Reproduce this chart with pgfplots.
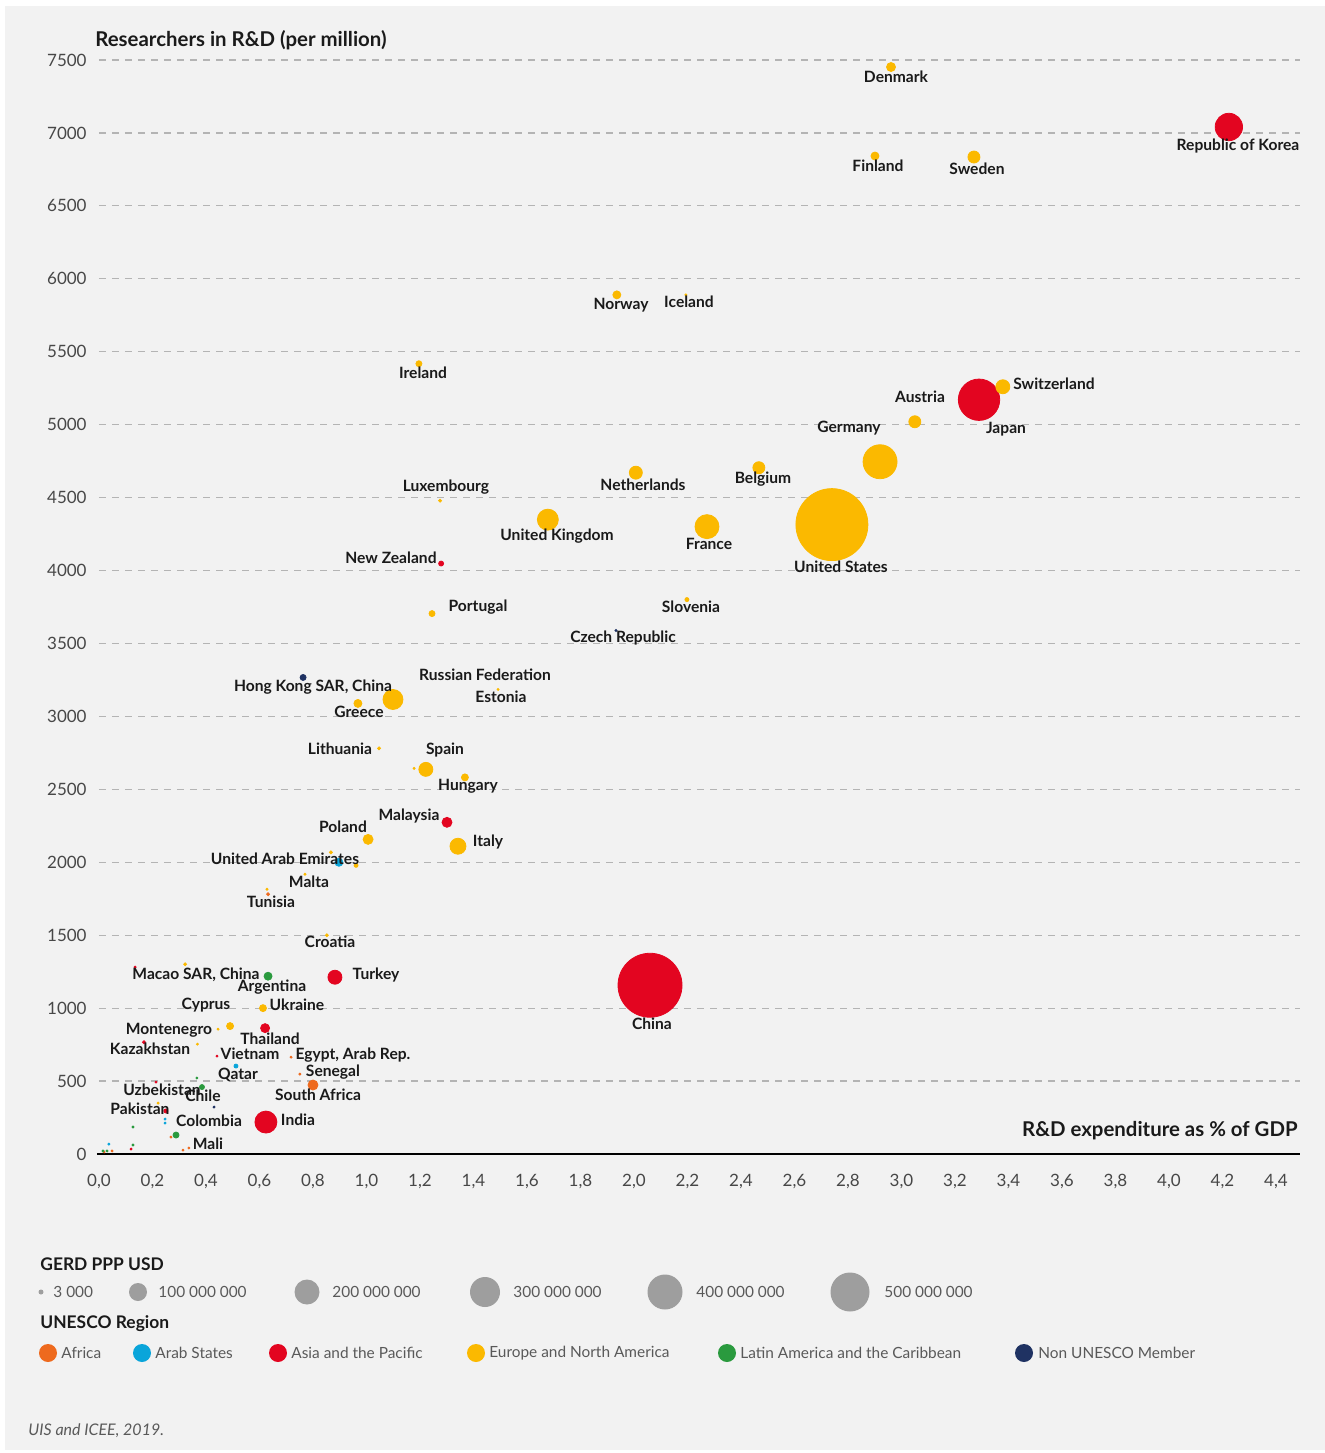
\documentclass[border=0pt]{standalone}
\usepackage{pgfplots}
\pgfplotsset{compat=1.18}
\usepackage{fontspec}
\setmainfont{Lato}
\definecolor{bgC}{HTML}{F2F2F2}
\definecolor{gridC}{HTML}{B4B4B4}
\definecolor{yellowC}{HTML}{FBB900}
\definecolor{redC}{HTML}{E30520}
\definecolor{orangeC}{HTML}{EE6A1E}
\definecolor{cyanC}{HTML}{0AA5DA}
\definecolor{greenC}{HTML}{2A9A3E}
\definecolor{navyC}{HTML}{1F3262}
\definecolor{txtC}{HTML}{1A1A1A}
\definecolor{legC}{HTML}{9E9E9E}

\pgfplotstableread{
x y r
2.961 7452 4.5
2.901 6842 4
3.271 6835 6
1.936 5890 4
2.194 5890 1
1.196 5418 3
3.050 5020 6
2.920 4746 17
2.467 4705 6
2.007 4671 6.5
1.275 4479 1.5
1.678 4349 10.5
2.273 4301 12
2.740 4315 36
1.245 3705 3
2.198 3801 2
1.099 3116 10
1.492 3185 1
0.968 3089 4
1.047 2781 1.5
1.222 2637 7
1.178 2644 1
1.368 2582 3.5
1.006 2157 5
1.342 2110 8
0.867 2068 1.5
0.961 1979 2
0.770 1918 1
0.628 1815 1
0.852 1500 1.5
0.322 1301 1.5
0.613 1000 3.5
0.490 877 3.5
0.445 856 1
0.368 753 1
0.221 349 1
3.379 5260 7
}\europe
\pgfplotstableread{
x y r
4.224 7041 13.7
3.290 5171 20.7
1.279 4048 2.5
1.301 2274 5
0.135 1281 1
0.882 1212 7
2.060 1157 32
0.621 863 4.5
0.168 767 1.5
0.441 671 1
0.213 493 1
0.250 295 2
0.624 219 11
0.120 34 1
}\asia
\pgfplotstableread{
x y r
0.897 2000 4
0.512 603 2
0.247 240 1
0.247 212 1
0.037 68 1
}\arab
\pgfplotstableread{
x y r
0.632 1781 1.5
0.718 664 1
0.751 548 1
0.800 473 5
0.269 116 1
0.314 27 1
0.336 41 1
0.049 21 1
0.019 14 1
}\africa
\pgfplotstableread{
x y r
0.632 1219 4
0.385 459 2.5
0.366 521 1
0.127 185 1
0.288 130 3
0.127 62 1
0.015 21 1
0.030 21 1
}\latam
\pgfplotstableread{
x y r
0.763 3267 3
0.430 322 1
1.933 3589 1
}\nonun

\pgfplotsset{
  bubble/.style={only marks, mark=*, color=#1, scatter,
    visualization depends on={\thisrow{r} \as \rr},
    scatter/use mapped color={draw=none, fill=#1},
    mark options={draw=none, fill=#1},
    scatter/@pre marker code/.append style={/tikz/mark size=0.5*\rr, /tikz/draw=none, /tikz/fill=#1}},
}

\begin{document}
\begin{tikzpicture}[x=0.5pt,y=0.5pt,
  lbl/.style={font=\fontsize{7.8}{9}\selectfont\bfseries, text=txtC, inner sep=0pt, anchor=center},
  legt/.style={font=\fontsize{7.7}{9}\selectfont, text=black!65, inner sep=0pt, anchor=west}]
\useasboundingbox (0,0) rectangle (1325,-1453);
\fill[white] (0,0) rectangle (1325,-1453);
\fill[bgC] (5,-6) rectangle (1325,-1450);

\begin{axis}[
  at={(49.5pt,-577pt)}, anchor=south west,
  scale only axis, width=600.5pt, height=547pt,
  xmin=0, xmax=4.49, ymin=0, ymax=7500,
  clip=false,
  axis line style={draw=none},
  major tick length=0pt,
  xtick={0,0.2,0.4,0.6,0.8,1.0,1.2,1.4,1.6,1.8,2.0,2.2,2.4,2.6,2.8,3.0,3.2,3.4,3.6,3.8,4.0,4.2,4.4},
  ytick={0,500,1000,1500,2000,2500,3000,3500,4000,4500,5000,5500,6000,6500,7000,7500},
  ymajorgrids,
  grid style={color=gridC, line width=0.6pt, dash pattern=on 3.5pt off 3pt},
  /pgf/number format/assume math mode=true,
  xticklabel style={/pgf/number format/fixed, /pgf/number format/fixed zerofill, /pgf/number format/precision=1, /pgf/number format/use comma, anchor=north, inner sep=0pt, yshift=-10pt},
  yticklabel style={/pgf/number format/fixed, /pgf/number format/set thousands separator={}, anchor=east, inner sep=0pt, xshift=-6pt},
  tick label style={font=\fontsize{8.5}{10}\selectfont, text=black!72},
]
\draw[black, line width=1pt] (axis cs:-0.008,0) -- (axis cs:4.49,0);
\addplot[bubble=redC] table {\asia};
\addplot[bubble=yellowC] table {\europe};
\addplot[bubble=cyanC] table {\arab};
\addplot[bubble=orangeC] table {\africa};
\addplot[bubble=greenC] table {\latam};
\addplot[bubble=navyC] table {\nonun};
\end{axis}

% axis titles
\node[font=\fontsize{10.2}{12}\selectfont\bfseries, text=txtC, anchor=west, inner sep=0pt] at (95,-40) {Researchers in R\&D (per million)};
\node[font=\fontsize{10.2}{12}\selectfont\bfseries, text=txtC, anchor=east, inner sep=0pt] at (1298,-1131) {R\&D expenditure as \% of GDP};

% point labels
\node[lbl] at (896,-77) {Denmark};
\node[lbl] at (1238,-146) {Republic of Korea};
\node[lbl] at (878,-166) {Finland};
\node[lbl] at (977,-169) {Sweden};
\node[lbl] at (621,-305) {Norway};
\node[lbl] at (689,-302) {Iceland};
\node[lbl] at (423,-373) {Ireland};
\node[lbl] at (920,-397) {Austria};
\node[lbl] at (1054,-384) {Switzerland};
\node[lbl] at (1006,-429) {Japan};
\node[lbl] at (849,-428) {Germany};
\node[lbl] at (763,-479) {Belgium};
\node[lbl] at (643,-485) {Netherlands};
\node[lbl] at (446,-487) {Luxembourg};
\node[lbl] at (557,-536) {United Kingdom};
\node[lbl] at (709,-544) {France};
\node[lbl] at (841,-567) {United States};
\node[lbl] at (391,-558) {New Zealand};
\node[lbl] at (478,-607) {Portugal};
\node[lbl] at (691,-607) {Slovenia};
\node[lbl] at (623,-638) {Czech Republic};
\node[lbl] at (313,-687) {Hong Kong SAR, China};
\node[lbl] at (485,-675) {Russian Federation};
\node[lbl] at (501,-697) {Estonia};
\node[lbl] at (359,-712) {Greece};
\node[lbl] at (340,-749) {Lithuania};
\node[lbl] at (445,-750) {Spain};
\node[lbl] at (468,-786) {Hungary};
\node[lbl] at (409,-816) {Malaysia};
\node[lbl] at (343,-827) {Poland};
\node[lbl] at (488,-842) {Italy};
\node[lbl] at (285,-859) {United Arab Emirates};
\node[lbl] at (309,-882) {Malta};
\node[lbl] at (271,-902) {Tunisia};
\node[lbl] at (330,-942) {Croatia};
\node[lbl] at (196,-975) {Macao SAR, China};
\node[lbl] at (376,-975) {Turkey};
\node[lbl] at (272,-987) {Argentina};
\node[lbl] at (206,-1005) {Cyprus};
\node[lbl] at (297,-1005) {Ukraine};
\node[lbl] at (652,-1024) {China};
\node[lbl] at (169,-1030) {Montenegro};
\node[lbl] at (270,-1039) {Thailand};
\node[lbl] at (150,-1049) {Kazakhstan};
\node[lbl] at (250,-1054) {Vietnam};
\node[lbl] at (353,-1055) {Egypt, Arab Rep.};
\node[lbl] at (238,-1075) {Qatar};
\node[lbl] at (333,-1072) {Senegal};
\node[lbl] at (162,-1090) {Uzbekistan};
\node[lbl] at (203,-1096) {Chile};
\node[lbl] at (318,-1095) {South Africa};
\node[lbl] at (140,-1109) {Pakistan};
\node[lbl] at (209,-1121) {Colombia};
\node[lbl] at (298,-1120) {India};
\node[lbl] at (208,-1144) {Mali};

% legend: size
\node[font=\fontsize{8.7}{10}\selectfont\bfseries, text=txtC, anchor=west, inner sep=0pt] at (40,-1264) {GERD PPP USD};
\fill[legC] (41,-1292) circle (2.5);
\node[legt] at (53,-1292) {3 000};
\fill[legC] (138,-1292) circle (9);
\node[legt] at (158,-1292) {100 000 000};
\fill[legC] (307,-1292) circle (12.5);
\node[legt] at (332,-1292) {200 000 000};
\fill[legC] (485,-1292) circle (15);
\node[legt] at (513,-1292) {300 000 000};
\fill[legC] (665,-1292) circle (17.5);
\node[legt] at (696,-1292) {400 000 000};
\fill[legC] (850,-1292) circle (19.5);
\node[legt] at (884,-1292) {500 000 000};
% legend: region
\node[font=\fontsize{8.7}{10}\selectfont\bfseries, text=txtC, anchor=west, inner sep=0pt] at (40,-1324) {UNESCO Region};
\fill[orangeC] (48,-1353) circle (9);
\node[legt] at (61,-1353) {Africa};
\fill[cyanC] (142,-1353) circle (9);
\node[legt] at (155,-1353) {Arab States};
\fill[redC] (278,-1353) circle (9);
\node[legt] at (291,-1353) {Asia and the Pacific};
\fill[yellowC] (476,-1353) circle (9);
\node[legt] at (489,-1353) {Europe and North America};
\fill[greenC] (727,-1353) circle (9);
\node[legt] at (740,-1353) {Latin America and the Caribbean};
\fill[navyC] (1024,-1353) circle (9);
\node[legt] at (1038,-1353) {Non UNESCO Member};
% source
\node[font=\fontsize{8}{9}\selectfont\itshape, text=black!65, anchor=west, inner sep=0pt] at (28,-1431) {UIS and ICEE, 2019.};
\end{tikzpicture}
\end{document}
